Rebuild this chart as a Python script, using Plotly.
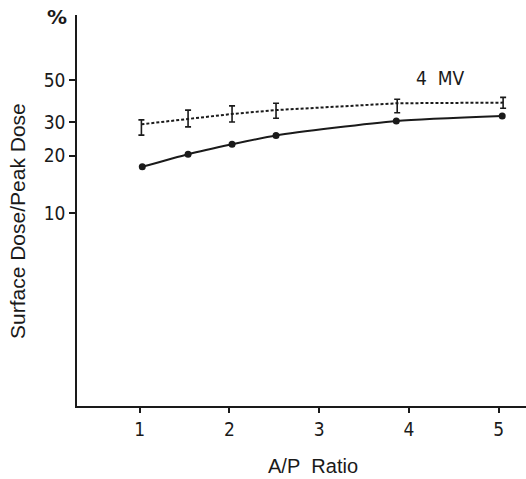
import plotly.graph_objects as go

# Data
ratio_solid = [1.03, 1.54, 2.03, 2.52, 3.86, 5.04]
dose_solid = [17.5, 20.4, 23.0, 25.6, 30.5, 32.4]

ratio_dash = [1.02, 1.54, 2.03, 2.52, 3.87, 5.05]
dose_dash = [29.3, 31.2, 33.2, 34.8, 37.8, 38.1]
dose_dash_low = [25.7, 28.4, 30.1, 31.5, 33.7, 35.6]
dose_dash_high = [30.9, 34.8, 36.6, 37.8, 39.7, 40.6]

y_tick_vals = [10, 20, 30, 50]
y_tick_text = ["10", "20", "30", "50"]
x_tick_vals = [1, 2, 3, 4, 5]
x_tick_text = ["1", "2", "3", "4", "5"]

err_plus = [h - v for h, v in zip(dose_dash_high, dose_dash)]
err_minus = [v - l for v, l in zip(dose_dash, dose_dash_low)]

ink = "#1a1a1a"
tick_font = dict(family="DejaVu Sans Condensed, DejaVu Sans, sans-serif", size=19, color=ink)

fig = go.Figure()
fig.add_trace(go.Scatter(
    x=ratio_dash, y=dose_dash, mode="lines",
    line=dict(color=ink, width=2, dash="3px,2px"),
    error_y=dict(type="data", symmetric=False, array=err_plus, arrayminus=err_minus,
                 color=ink, thickness=1.6, width=3),
    showlegend=False, hoverinfo="skip"))
fig.add_trace(go.Scatter(
    x=ratio_solid, y=dose_solid, mode="lines+markers",
    line=dict(color=ink, width=2, shape="spline", smoothing=0.6),
    marker=dict(color=ink, size=7),
    showlegend=False, hoverinfo="skip"))

fig.update_layout(
    width=526, height=479,
    margin=dict(l=77, r=0, t=15, b=73),
    paper_bgcolor="white", plot_bgcolor="white",
    xaxis=dict(range=[0.3025, 5.305], tickvals=x_tick_vals, ticktext=x_tick_text,
               showgrid=False, zeroline=False, showline=True, linecolor=ink, linewidth=1.6,
               ticks="outside", ticklen=5, tickwidth=1.5, tickcolor=ink, tickfont=tick_font),
    yaxis=dict(type="log", range=[-0.0158, 2.042], tickvals=y_tick_vals, ticktext=y_tick_text,
               showgrid=False, zeroline=False, showline=True, linecolor=ink, linewidth=1.6,
               ticks="outside", ticklen=6, tickwidth=1.5, tickcolor=ink, tickfont=tick_font),
    annotations=[
        dict(text="Surface Dose/Peak Dose", xref="paper", yref="paper",
             x=-(77 - 18) / 449, y=(406 - 221) / 391, textangle=-90,
             showarrow=False, xanchor="center", yanchor="middle",
             font=dict(family="Liberation Sans, Arial, sans-serif", size=21, color=ink)),
        dict(text="A/P\u00a0 Ratio", xref="paper", yref="paper",
             x=(313 - 77) / 449, y=-(466 - 406) / 391,
             showarrow=False, xanchor="center", yanchor="middle",
             font=dict(family="Liberation Sans, Arial, sans-serif", size=20, color=ink)),
        dict(text="<b>%</b>", xref="paper", yref="paper",
             x=-(77 - 57) / 449, y=(406 - 17) / 391,
             showarrow=False, xanchor="center", yanchor="middle",
             font=dict(family="DejaVu Sans, sans-serif", size=20, color=ink)),
        dict(text="4\u00a0 MV", xref="paper", yref="paper",
             x=(440 - 77) / 449, y=(406 - 78) / 391,
             showarrow=False, xanchor="center", yanchor="middle",
             font=dict(family="DejaVu Sans Condensed, DejaVu Sans, sans-serif", size=19, color=ink)),
    ],
)

fig.write_html("out.html", config={"displayModeBar": False},
               post_script="document.body.style.margin='0';")
